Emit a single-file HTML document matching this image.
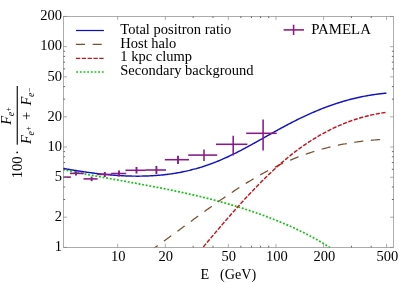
<!DOCTYPE html>
<html><head><meta charset="utf-8"><title>plot</title>
<style>html,body{margin:0;padding:0;background:#fff;}body{width:399px;height:283px;overflow:hidden;position:relative;font-family:"Liberation Serif",serif;}svg{will-change:transform;}</style></head>
<body>
<svg width="399" height="283" viewBox="0 0 399 283" style="position:absolute;left:0;top:0">
<defs><clipPath id="c"><rect x="63.0" y="16.4" width="330.5" height="231.0"/></clipPath></defs>
<g clip-path="url(#c)" fill="none">
<path d="M63.00,169.63 L64.64,169.97 L66.29,170.30 L67.93,170.64 L69.57,170.97 L71.22,171.30 L72.86,171.63 L74.50,171.96 L76.15,172.28 L77.79,172.60 L79.43,172.92 L81.08,173.24 L82.72,173.56 L84.36,173.87 L86.01,174.18 L87.65,174.49 L89.29,174.80 L90.93,175.11 L92.58,175.42 L94.22,175.73 L95.86,176.03 L97.51,176.34 L99.15,176.64 L100.79,176.94 L102.44,177.24 L104.08,177.54 L105.72,177.84 L107.37,178.14 L109.01,178.44 L110.65,178.74 L112.30,179.04 L113.94,179.33 L115.58,179.63 L117.23,179.93 L118.87,180.23 L120.51,180.52 L122.16,180.82 L123.80,181.12 L125.44,181.42 L127.09,181.71 L128.73,182.01 L130.37,182.31 L132.02,182.61 L133.66,182.91 L135.30,183.21 L136.94,183.52 L138.59,183.82 L140.23,184.12 L141.87,184.43 L143.52,184.73 L145.16,185.04 L146.80,185.35 L148.45,185.66 L150.09,185.97 L151.73,186.28 L153.38,186.60 L155.02,186.91 L156.66,187.23 L158.31,187.55 L159.95,187.87 L161.59,188.20 L163.24,188.52 L164.88,188.85 L166.52,189.18 L168.17,189.52 L169.81,189.85 L171.45,190.19 L173.10,190.53 L174.74,190.87 L176.38,191.22 L178.03,191.56 L179.67,191.92 L181.31,192.27 L182.95,192.63 L184.60,192.99 L186.24,193.35 L187.88,193.72 L189.53,194.09 L191.17,194.46 L192.81,194.84 L194.46,195.22 L196.10,195.60 L197.74,195.99 L199.39,196.38 L201.03,196.78 L202.67,197.18 L204.32,197.58 L205.96,197.99 L207.60,198.40 L209.25,198.82 L210.89,199.24 L212.53,199.66 L214.18,200.09 L215.82,200.52 L217.46,200.96 L219.11,201.41 L220.75,201.86 L222.39,202.31 L224.04,202.77 L225.68,203.23 L227.32,203.70 L228.96,204.17 L230.61,204.65 L232.25,205.14 L233.89,205.63 L235.54,206.12 L237.18,206.62 L238.82,207.13 L240.47,207.64 L242.11,208.16 L243.75,208.68 L245.40,209.21 L247.04,209.75 L248.68,210.29 L250.33,210.84 L251.97,211.40 L253.61,211.96 L255.26,212.53 L256.90,213.10 L258.54,213.68 L260.19,214.27 L261.83,214.86 L263.47,215.46 L265.12,216.07 L266.76,216.69 L268.40,217.31 L270.05,217.94 L271.69,218.58 L273.33,219.22 L274.97,219.87 L276.62,220.53 L278.26,221.20 L279.90,221.87 L281.55,222.56 L283.19,223.25 L284.83,223.95 L286.48,224.65 L288.12,225.37 L289.76,226.09 L291.41,226.83 L293.05,227.57 L294.69,228.33 L296.34,229.10 L297.98,229.87 L299.62,230.66 L301.27,231.46 L302.91,232.27 L304.55,233.09 L306.20,233.92 L307.84,234.77 L309.48,235.63 L311.13,236.50 L312.77,237.39 L314.41,238.29 L316.06,239.21 L317.70,240.13 L319.34,241.08 L320.98,242.04 L322.63,243.01 L324.27,244.00 L325.91,245.00 L327.56,246.03 L329.20,247.06 L330.84,248.12 L332.49,249.19 L334.13,250.28 L335.77,251.39 L337.42,252.51 L339.06,253.65 L340.70,254.82 L342.35,256.00 L343.99,257.19 L345.63,258.41 L347.28,259.65 L348.92,260.90 L350.56,262.18 L352.21,263.47 L353.85,264.79 L355.49,266.12 L357.14,267.48 L358.78,268.85 L360.42,270.25 L362.07,271.67 L363.71,273.11 L365.35,274.57 L366.99,276.05 L368.64,277.55 L370.28,279.08 L371.92,280.63 L373.57,282.20 L375.21,283.80 L376.85,285.41 L378.50,287.05 L380.14,288.72 L381.78,290.41 L383.43,292.12 L385.07,293.85 L386.71,295.61 L388.36,297.40 L390.00,299.21" stroke="#14c414" stroke-width="1.7" stroke-dasharray="1.9 1.76"/>
<path d="M146.00,253.78 L147.21,252.94 L148.42,252.10 L149.63,251.26 L150.83,250.41 L152.04,249.56 L153.25,248.71 L154.46,247.86 L155.67,247.00 L156.88,246.14 L158.09,245.28 L159.29,244.42 L160.50,243.55 L161.71,242.68 L162.92,241.81 L164.13,240.94 L165.34,240.07 L166.55,239.19 L167.75,238.32 L168.96,237.44 L170.17,236.56 L171.38,235.68 L172.59,234.80 L173.80,233.92 L175.01,233.03 L176.21,232.15 L177.42,231.27 L178.63,230.38 L179.84,229.50 L181.05,228.61 L182.26,227.72 L183.46,226.84 L184.67,225.95 L185.88,225.07 L187.09,224.18 L188.30,223.29 L189.51,222.41 L190.72,221.53 L191.92,220.64 L193.13,219.76 L194.34,218.87 L195.55,217.99 L196.76,217.11 L197.97,216.23 L199.18,215.35 L200.38,214.48 L201.59,213.60 L202.80,212.73 L204.01,211.85 L205.22,210.98 L206.43,210.11 L207.64,209.25 L208.84,208.38 L210.05,207.52 L211.26,206.66 L212.47,205.80 L213.68,204.94 L214.89,204.09 L216.10,203.24 L217.30,202.39 L218.51,201.55 L219.72,200.70 L220.93,199.86 L222.14,199.03 L223.35,198.20 L224.56,197.37 L225.76,196.54 L226.97,195.72 L228.18,194.90 L229.39,194.08 L230.60,193.27 L231.81,192.47 L233.02,191.66 L234.22,190.86 L235.43,190.07 L236.64,189.28 L237.85,188.49 L239.06,187.71 L240.27,186.94 L241.47,186.16 L242.68,185.40 L243.89,184.64 L245.10,183.88 L246.31,183.13 L247.52,182.38 L248.73,181.64 L249.93,180.91 L251.14,180.18 L252.35,179.45 L253.56,178.73 L254.77,178.02 L255.98,177.32 L257.19,176.62 L258.39,175.92 L259.60,175.24 L260.81,174.56 L262.02,173.88 L263.23,173.21 L264.44,172.55 L265.65,171.90 L266.85,171.25 L268.06,170.61 L269.27,169.98 L270.48,169.35 L271.69,168.74 L272.90,168.12 L274.11,167.52 L275.31,166.93 L276.52,166.34 L277.73,165.75 L278.94,165.18 L280.15,164.61 L281.36,164.05 L282.57,163.50 L283.77,162.95 L284.98,162.41 L286.19,161.88 L287.40,161.35 L288.61,160.84 L289.82,160.32 L291.03,159.82 L292.23,159.32 L293.44,158.83 L294.65,158.35 L295.86,157.87 L297.07,157.40 L298.28,156.93 L299.48,156.48 L300.69,156.03 L301.90,155.58 L303.11,155.14 L304.32,154.71 L305.53,154.29 L306.74,153.87 L307.94,153.46 L309.15,153.05 L310.36,152.66 L311.57,152.26 L312.78,151.88 L313.99,151.50 L315.20,151.13 L316.40,150.76 L317.61,150.40 L318.82,150.04 L320.03,149.70 L321.24,149.35 L322.45,149.02 L323.66,148.69 L324.86,148.37 L326.07,148.05 L327.28,147.74 L328.49,147.43 L329.70,147.13 L330.91,146.84 L332.12,146.55 L333.32,146.27 L334.53,145.99 L335.74,145.72 L336.95,145.46 L338.16,145.20 L339.37,144.95 L340.58,144.70 L341.78,144.46 L342.99,144.23 L344.20,144.00 L345.41,143.77 L346.62,143.55 L347.83,143.34 L349.04,143.13 L350.24,142.93 L351.45,142.73 L352.66,142.54 L353.87,142.36 L355.08,142.18 L356.29,142.00 L357.49,141.83 L358.70,141.67 L359.91,141.51 L361.12,141.36 L362.33,141.21 L363.54,141.06 L364.75,140.93 L365.95,140.79 L367.16,140.67 L368.37,140.54 L369.58,140.43 L370.79,140.31 L372.00,140.20 L373.21,140.10 L374.41,140.00 L375.62,139.91 L376.83,139.82 L378.04,139.74 L379.25,139.66 L380.46,139.59 L381.67,139.52 L382.87,139.46 L384.08,139.40 L385.29,139.34 L386.50,139.29" stroke="#7a5230" stroke-width="1.25" stroke-dasharray="9.1 7.6" stroke-dashoffset="11.5"/>
<path d="M196.00,255.71 L196.96,254.56 L197.91,253.41 L198.87,252.26 L199.83,251.11 L200.79,249.96 L201.74,248.82 L202.70,247.67 L203.66,246.52 L204.62,245.38 L205.57,244.23 L206.53,243.09 L207.49,241.95 L208.44,240.81 L209.40,239.67 L210.36,238.53 L211.32,237.39 L212.27,236.26 L213.23,235.12 L214.19,233.99 L215.15,232.86 L216.10,231.73 L217.06,230.61 L218.02,229.48 L218.97,228.36 L219.93,227.24 L220.89,226.12 L221.85,225.00 L222.80,223.89 L223.76,222.78 L224.72,221.67 L225.68,220.57 L226.63,219.46 L227.59,218.36 L228.55,217.26 L229.51,216.17 L230.46,215.08 L231.42,213.99 L232.38,212.90 L233.33,211.82 L234.29,210.74 L235.25,209.66 L236.21,208.59 L237.16,207.52 L238.12,206.45 L239.08,205.39 L240.04,204.33 L240.99,203.27 L241.95,202.22 L242.91,201.17 L243.86,200.12 L244.82,199.08 L245.78,198.05 L246.74,197.01 L247.69,195.99 L248.65,194.96 L249.61,193.94 L250.57,192.93 L251.52,191.92 L252.48,190.91 L253.44,189.91 L254.39,188.91 L255.35,187.92 L256.31,186.93 L257.27,185.95 L258.22,184.97 L259.18,184.00 L260.14,183.03 L261.10,182.07 L262.05,181.11 L263.01,180.16 L263.97,179.21 L264.92,178.27 L265.88,177.34 L266.84,176.41 L267.80,175.48 L268.75,174.56 L269.71,173.65 L270.67,172.74 L271.63,171.84 L272.58,170.95 L273.54,170.06 L274.50,169.18 L275.45,168.30 L276.41,167.43 L277.37,166.56 L278.33,165.71 L279.28,164.86 L280.24,164.01 L281.20,163.17 L282.16,162.34 L283.11,161.52 L284.07,160.70 L285.03,159.89 L285.98,159.09 L286.94,158.29 L287.90,157.50 L288.86,156.72 L289.81,155.95 L290.77,155.18 L291.73,154.42 L292.69,153.67 L293.64,152.92 L294.60,152.18 L295.56,151.45 L296.52,150.73 L297.47,150.01 L298.43,149.30 L299.39,148.60 L300.34,147.91 L301.30,147.22 L302.26,146.54 L303.22,145.87 L304.17,145.20 L305.13,144.54 L306.09,143.89 L307.05,143.24 L308.00,142.61 L308.96,141.98 L309.92,141.35 L310.87,140.74 L311.83,140.13 L312.79,139.52 L313.75,138.93 L314.70,138.34 L315.66,137.76 L316.62,137.18 L317.58,136.61 L318.53,136.05 L319.49,135.49 L320.45,134.95 L321.40,134.40 L322.36,133.87 L323.32,133.34 L324.28,132.82 L325.23,132.31 L326.19,131.80 L327.15,131.30 L328.11,130.80 L329.06,130.31 L330.02,129.83 L330.98,129.36 L331.93,128.89 L332.89,128.43 L333.85,127.97 L334.81,127.52 L335.76,127.08 L336.72,126.64 L337.68,126.21 L338.64,125.79 L339.59,125.37 L340.55,124.96 L341.51,124.56 L342.46,124.16 L343.42,123.77 L344.38,123.38 L345.34,123.00 L346.29,122.63 L347.25,122.26 L348.21,121.90 L349.17,121.55 L350.12,121.20 L351.08,120.86 L352.04,120.52 L352.99,120.19 L353.95,119.87 L354.91,119.55 L355.87,119.24 L356.82,118.94 L357.78,118.64 L358.74,118.34 L359.70,118.06 L360.65,117.77 L361.61,117.50 L362.57,117.23 L363.53,116.97 L364.48,116.71 L365.44,116.46 L366.40,116.21 L367.35,115.97 L368.31,115.73 L369.27,115.51 L370.23,115.28 L371.18,115.06 L372.14,114.85 L373.10,114.65 L374.06,114.45 L375.01,114.25 L375.97,114.06 L376.93,113.88 L377.88,113.70 L378.84,113.53 L379.80,113.36 L380.76,113.20 L381.71,113.05 L382.67,112.90 L383.63,112.75 L384.59,112.61 L385.54,112.48 L386.50,112.35" stroke="#c4141e" stroke-width="1.45" stroke-dasharray="4.2 1.5"/>
<path d="M63.00,168.36 L64.08,168.55 L65.16,168.74 L66.25,168.93 L67.33,169.12 L68.41,169.30 L69.49,169.49 L70.57,169.67 L71.66,169.85 L72.74,170.03 L73.82,170.21 L74.90,170.39 L75.98,170.56 L77.07,170.73 L78.15,170.91 L79.23,171.07 L80.31,171.24 L81.39,171.41 L82.47,171.57 L83.56,171.73 L84.64,171.89 L85.72,172.05 L86.80,172.20 L87.88,172.35 L88.97,172.50 L90.05,172.65 L91.13,172.79 L92.21,172.94 L93.29,173.08 L94.38,173.21 L95.46,173.35 L96.54,173.48 L97.62,173.61 L98.70,173.74 L99.79,173.86 L100.87,173.98 L101.95,174.10 L103.03,174.22 L104.11,174.33 L105.20,174.44 L106.28,174.55 L107.36,174.65 L108.44,174.75 L109.52,174.85 L110.61,174.95 L111.69,175.04 L112.77,175.13 L113.85,175.21 L114.93,175.29 L116.02,175.37 L117.10,175.44 L118.18,175.52 L119.26,175.58 L120.34,175.65 L121.42,175.71 L122.51,175.77 L123.59,175.82 L124.67,175.87 L125.75,175.91 L126.83,175.96 L127.92,175.99 L129.00,176.03 L130.08,176.06 L131.16,176.08 L132.24,176.11 L133.33,176.12 L134.41,176.14 L135.49,176.15 L136.57,176.15 L137.65,176.15 L138.74,176.15 L139.82,176.14 L140.90,176.13 L141.98,176.12 L143.06,176.09 L144.15,176.07 L145.23,176.04 L146.31,176.01 L147.39,175.97 L148.47,175.92 L149.56,175.87 L150.64,175.82 L151.72,175.76 L152.80,175.70 L153.88,175.63 L154.96,175.56 L156.05,175.48 L157.13,175.40 L158.21,175.31 L159.29,175.22 L160.37,175.12 L161.46,175.02 L162.54,174.91 L163.62,174.79 L164.70,174.68 L165.78,174.55 L166.87,174.42 L167.95,174.29 L169.03,174.15 L170.11,174.00 L171.19,173.85 L172.28,173.69 L173.36,173.53 L174.44,173.36 L175.52,173.18 L176.60,173.00 L177.69,172.81 L178.77,172.62 L179.85,172.42 L180.93,172.22 L182.01,172.01 L183.10,171.79 L184.18,171.57 L185.26,171.34 L186.34,171.11 L187.42,170.87 L188.51,170.62 L189.59,170.36 L190.67,170.04 L191.75,169.70 L192.83,169.40 L193.91,169.12 L195.00,168.89 L196.08,168.68 L197.16,168.38 L198.24,168.07 L199.32,167.75 L200.41,167.42 L201.49,167.08 L202.57,166.74 L203.65,166.39 L204.73,166.03 L205.82,165.67 L206.90,165.30 L207.98,164.93 L209.06,164.55 L210.14,164.16 L211.23,163.76 L212.31,163.35 L213.39,162.94 L214.47,162.52 L215.55,162.10 L216.64,161.67 L217.72,161.23 L218.80,160.78 L219.88,160.33 L220.96,159.87 L222.05,159.40 L223.13,158.93 L224.21,158.45 L225.29,157.96 L226.37,157.47 L227.45,156.97 L228.54,156.47 L229.62,155.96 L230.70,155.45 L231.78,154.93 L232.86,154.40 L233.95,153.87 L235.03,153.33 L236.11,152.79 L237.19,152.25 L238.27,151.70 L239.36,151.14 L240.44,150.58 L241.52,150.02 L242.60,149.45 L243.68,148.88 L244.77,148.31 L245.85,147.73 L246.93,147.15 L248.01,146.56 L249.09,145.97 L250.18,145.38 L251.26,144.79 L252.34,144.20 L253.42,143.60 L254.50,143.00 L255.59,142.40 L256.67,141.80 L257.75,141.19 L258.83,140.59 L259.91,139.98 L260.99,139.37 L262.08,138.76 L263.16,138.16 L264.24,137.55 L265.32,136.94 L266.40,136.33 L267.49,135.72 L268.57,135.11 L269.65,134.51 L270.73,133.90 L271.81,133.29 L272.90,132.69 L273.98,132.09 L275.06,131.49 L276.14,130.89 L277.22,130.29 L278.31,129.69 L279.39,129.10 L280.47,128.51 L281.55,127.92 L282.63,127.33 L283.72,126.75 L284.80,126.17 L285.88,125.59 L286.96,125.01 L288.04,124.44 L289.13,123.87 L290.21,123.31 L291.29,122.75 L292.37,122.19 L293.45,121.64 L294.54,121.09 L295.62,120.55 L296.70,120.00 L297.78,119.47 L298.86,118.94 L299.94,118.41 L301.03,117.88 L302.11,117.37 L303.19,116.85 L304.27,116.34 L305.35,115.84 L306.44,115.33 L307.52,114.84 L308.60,114.35 L309.68,113.86 L310.76,113.38 L311.85,112.90 L312.93,112.43 L314.01,111.97 L315.09,111.50 L316.17,111.05 L317.26,110.60 L318.34,110.15 L319.42,109.71 L320.50,109.27 L321.58,108.84 L322.67,108.42 L323.75,108.00 L324.83,107.58 L325.91,107.17 L326.99,106.77 L328.08,106.37 L329.16,105.98 L330.24,105.59 L331.32,105.21 L332.40,104.83 L333.48,104.46 L334.57,104.10 L335.65,103.74 L336.73,103.38 L337.81,103.03 L338.89,102.69 L339.98,102.35 L341.06,102.02 L342.14,101.69 L343.22,101.37 L344.30,101.06 L345.39,100.75 L346.47,100.44 L347.55,100.14 L348.63,99.85 L349.71,99.56 L350.80,99.28 L351.88,99.00 L352.96,98.73 L354.04,98.47 L355.12,98.21 L356.21,97.96 L357.29,97.71 L358.37,97.47 L359.45,97.23 L360.53,97.00 L361.62,96.77 L362.70,96.55 L363.78,96.34 L364.86,96.13 L365.94,95.93 L367.03,95.73 L368.11,95.54 L369.19,95.36 L370.27,95.17 L371.35,95.00 L372.43,94.83 L373.52,94.67 L374.60,94.51 L375.68,94.36 L376.76,94.21 L377.84,94.07 L378.93,93.93 L380.01,93.80 L381.09,93.68 L382.17,93.56 L383.25,93.44 L384.34,93.34 L385.42,93.23 L386.50,93.13" stroke="#1414be" stroke-width="1.45"/>
</g>
<g stroke="#861a86" stroke-width="1.55" fill="none">
<path d="M63.0,177.1 H70.9"/>
<path d="M69.9,173.4 H83.8"/>
<path d="M76.0,171.2 V175.6" stroke-width="1.9"/>
<path d="M83.5,178.9 H97.6"/>
<path d="M91.6,176.6 V181.1" stroke-width="1.9"/>
<path d="M97.0,174.4 H112.0"/>
<path d="M104.8,172.0 V177.0" stroke-width="1.9"/>
<path d="M111.2,173.5 H126.2"/>
<path d="M119.0,170.6 V176.4" stroke-width="1.9"/>
<path d="M125.4,170.3 H145.8"/>
<path d="M136.5,167.0 V173.5" stroke-width="1.9"/>
<path d="M145.6,170.0 H166.0"/>
<path d="M156.4,166.0 V174.0" stroke-width="1.9"/>
<path d="M164.8,159.7 H189.0"/>
<path d="M178.0,155.8 V164.0" stroke-width="1.9"/>
<path d="M188.2,155.1 H217.2"/>
<path d="M204.0,149.6 V161.0" stroke-width="1.55"/>
<path d="M216.0,144.3 H247.4"/>
<path d="M233.2,135.7 V155.5" stroke-width="1.55"/>
<path d="M246.2,133.3 H276.7"/>
<path d="M263.1,119.5 V150.4" stroke-width="1.55"/>
<path d="M283.6,29.9 H304"/><path d="M293.6,24.7 V35"/>
</g>
<g fill="none">
<path d="M75.9,30.5 H103.9" stroke="#1010b8" stroke-width="1.25"/>
<path d="M75.9,44.4 H103.9" stroke="#74502e" stroke-width="1.25" stroke-dasharray="9.1 7.6"/>
<path d="M75.9,58.3 H103.9" stroke="#c8141e" stroke-width="1.25" stroke-dasharray="4.3 1.55"/>
<path d="M76.2,72.0 H104.2" stroke="#18c418" stroke-width="1.6" stroke-dasharray="1.9 1.76"/>
</g>
<rect x="63.5" y="16.45" width="330.0" height="230.95000000000002" fill="none" stroke="#808080" stroke-width="0.65"/>
<path d="M117.70,247.4 v-3.5 M117.70,16.45 v3.5 M165.34,247.4 v-3.5 M165.34,16.45 v3.5 M228.31,247.4 v-3.5 M228.31,16.45 v3.5 M275.95,247.4 v-3.5 M275.95,16.45 v3.5 M323.59,247.4 v-3.5 M323.59,16.45 v3.5 M386.56,247.4 v-3.5 M386.56,16.45 v3.5 M63.5,247.40 h3.5 M393.5,247.40 h-3.5 M63.5,217.19 h3.5 M393.5,217.19 h-3.5 M63.5,177.24 h3.5 M393.5,177.24 h-3.5 M63.5,147.03 h3.5 M393.5,147.03 h-3.5 M63.5,116.82 h3.5 M393.5,116.82 h-3.5 M63.5,76.87 h3.5 M393.5,76.87 h-3.5 M63.5,46.66 h3.5 M393.5,46.66 h-3.5 M63.5,16.45 h3.5 M393.5,16.45 h-3.5" stroke="#808080" stroke-width="0.65" fill="none"/>
<path d="M193.20,247.4 v-1.6 M193.20,16.45 v1.6 M212.98,247.4 v-1.6 M212.98,16.45 v1.6 M240.84,247.4 v-1.6 M240.84,16.45 v1.6 M251.44,247.4 v-1.6 M251.44,16.45 v1.6 M260.61,247.4 v-1.6 M260.61,16.45 v1.6 M268.71,247.4 v-1.6 M268.71,16.45 v1.6 M351.45,247.4 v-1.6 M351.45,16.45 v1.6 M371.23,247.4 v-1.6 M371.23,16.45 v1.6 M63.5,199.51 h1.6 M393.5,199.51 h-1.6 M63.5,186.97 h1.6 M393.5,186.97 h-1.6 M63.5,169.30 h1.6 M393.5,169.30 h-1.6 M63.5,162.58 h1.6 M393.5,162.58 h-1.6 M63.5,156.76 h1.6 M393.5,156.76 h-1.6 M63.5,151.62 h1.6 M393.5,151.62 h-1.6 M63.5,99.14 h1.6 M393.5,99.14 h-1.6 M63.5,86.60 h1.6 M393.5,86.60 h-1.6 M63.5,68.93 h1.6 M393.5,68.93 h-1.6 M63.5,62.21 h1.6 M393.5,62.21 h-1.6 M63.5,56.39 h1.6 M393.5,56.39 h-1.6 M63.5,51.25 h1.6 M393.5,51.25 h-1.6" stroke="#404040" stroke-width="0.8" fill="none"/>
<g style="font-family:&quot;Liberation Serif&quot;,serif" font-size="14.5px" fill="#000">
<text x="62.0" y="251.20" text-anchor="end">1</text>
<text x="62.0" y="220.99" text-anchor="end">2</text>
<text x="62.0" y="181.04" text-anchor="end">5</text>
<text x="62.0" y="150.83" text-anchor="end">10</text>
<text x="62.0" y="120.62" text-anchor="end">20</text>
<text x="62.0" y="80.67" text-anchor="end">50</text>
<text x="62.0" y="50.46" text-anchor="end">100</text>
<text x="62.0" y="20.25" text-anchor="end">200</text>
<text x="118.20" y="260.5" text-anchor="middle">10</text>
<text x="165.84" y="260.5" text-anchor="middle">20</text>
<text x="228.81" y="260.5" text-anchor="middle">50</text>
<text x="276.85" y="260.5" text-anchor="middle">100</text>
<text x="324.49" y="260.5" text-anchor="middle">200</text>
<text x="387.46" y="260.5" text-anchor="middle">500</text>
<text x="120.3" y="34.3">Total positron ratio</text>
<text x="120.3" y="47.8">Host halo</text>
<text x="120.3" y="61.3">1 kpc clump</text>
<text x="120.3" y="74.5">Secondary background</text>
<text x="311.2" y="33.9" font-size="14.85px">PAMELA</text>
<text x="200.5" y="279.3" font-size="14.2px">E</text><text x="220.1" y="279.3" font-size="14.1px">(GeV)</text>
</g>
<g transform="translate(0,177) rotate(-90)" style="font-family:&quot;Liberation Serif&quot;,serif" fill="#000">
<text x="-1.3" y="21.5" font-size="14.5px">100</text>
<circle cx="24.6" cy="17.2" r="0.9"/>
<rect x="32.3" y="16.7" width="58.7" height="1.1"/>
<text x="52.3" y="11.0" font-size="14.5px" font-style="italic">F</text><text x="60.699999999999996" y="14.2" font-size="10px" font-style="italic">e</text><text x="65.5" y="11.2" font-size="8px">+</text>
<text x="33.0" y="31.1" font-size="14.5px" font-style="italic">F</text><text x="41.4" y="34.300000000000004" font-size="10px" font-style="italic">e</text><text x="46.2" y="31.3" font-size="8px">+</text>
<text x="57" y="31.3" font-size="14.5px">+</text>
<text x="71.6" y="31.1" font-size="14.5px" font-style="italic">F</text><text x="80.0" y="34.300000000000004" font-size="10px" font-style="italic">e</text><text x="85.0" y="31.5" font-size="8px">−</text>
</g>
</svg>
</body></html>
